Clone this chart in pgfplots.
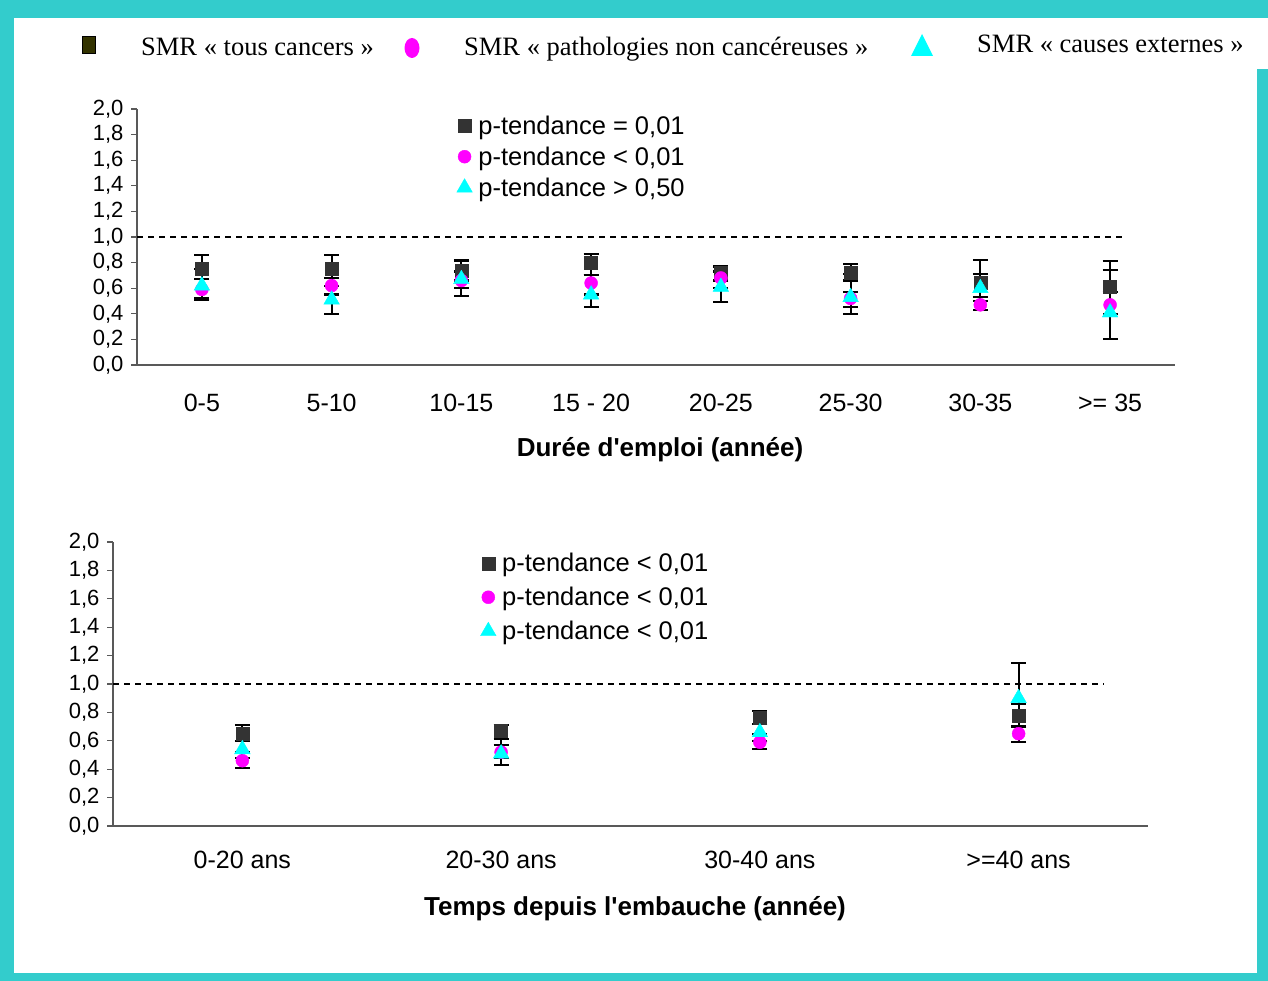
\documentclass[border=0pt]{standalone}
\usepackage{fontspec}
\setmainfont{Liberation Sans}[Ligatures=TeXOff]
\newfontfamily\timesfont{Liberation Serif}
\usepackage{pgfplots}
\usepackage{pgfplotstable}
\pgfplotsset{compat=1.18}

\definecolor{frameteal}{HTML}{33CCCC}
\definecolor{sqgray}{HTML}{333333}
\definecolor{keyolive}{HTML}{333300}
\definecolor{smrmag}{HTML}{FF00FF}
\definecolor{smrcyan}{HTML}{00FFFF}

% SMR by duration of employment: x, SMR, CI upper offset, CI lower offset
\pgfplotstableread{
x y ep em
0 0.75 0.11 0.08
1 0.75 0.11 0.07
2 0.74 0.08 0.08
3 0.80 0.07 0.10
4 0.72 0.05 0.06
5 0.72 0.07 0.06
6 0.64 0.18 0.11
7 0.61 0.20 0.04
}\dureeCancers
\pgfplotstableread{
x y ep em
0 0.59 0.16 0.08
1 0.62 0.06 0.07
2 0.66 0.15 0.12
3 0.64 0.06 0.09
4 0.68 0.05 0.08
5 0.52 0.05 0.07
6 0.47 0.06 0.04
7 0.47 0.10 0.07
}\dureeNonCancer
\pgfplotstableread{
x y ep em
0 0.62 0.05 0.10
1 0.51 0.11 0.11
2 0.67 0.06 0.07
3 0.55 0.15 0.10
4 0.61 0.12 0.12
5 0.53 0.18 0.13
6 0.60 0.11 0.10
7 0.41 0.33 0.21
}\dureeExternes

% SMR by time since hiring
\pgfplotstableread{
x y ep em
0 0.65 0.06 0.05
1 0.67 0.04 0.06
2 0.76 0.05 0.04
3 0.78 0.08 0.08
}\tempsCancers
\pgfplotstableread{
x y ep em
0 0.46 0.06 0.05
1 0.52 0.05 0.04
2 0.59 0.06 0.045
3 0.65 0.05 0.06
}\tempsNonCancer
\pgfplotstableread{
x y ep em
0 0.54 0.06 0.06
1 0.51 0.10 0.08
2 0.66 0.06 0.06
3 0.90 0.25 0.20
}\tempsExternes

\pgfplotsset{
  smrbase/.style={
    scale only axis, clip=false,
    axis x line*=bottom, axis y line*=left,
    axis line style={-, black!65, line width=1.3pt},
    ymin=0, ymax=2, ytick={0,0.2,0.4,0.6,0.8,1.0,1.2,1.4,1.6,1.8,2.0},
    tick align=outside, major tick length=6pt,
    xtick style={draw=none},
    ytick style={black!65, line width=1.2pt},
    y tick label style={font=\fontsize{22}{24}\selectfont, xshift=-4pt,
      /pgf/number format/.cd, use comma, fixed, fixed zerofill, precision=1,
      assume math mode=true},
    x tick label style={font=\fontsize{25}{28}\selectfont, yshift=-20pt},
    legend cell align=left,
    legend style={draw=none, fill=none, anchor=north west,
      font=\fontsize{25.5}{28}\selectfont, row sep=7pt,
      /tikz/every odd column/.append style={column sep=4pt}},
  },
  smrerr/.style={
    error bars/y dir=both, error bars/y explicit,
    error bars/error bar style={black, solid, line width=2.2pt},
    error bars/error mark options={black, solid, rotate=90, mark size=7.5pt, line width=2.2pt},
  },
  sqplot/.style={only marks, mark=square*, mark size=6.5pt, color=sqgray, smrerr},
  ciplot/.style={only marks, mark=*, mark size=6.5pt, color=smrmag, smrerr},
  trplot/.style={only marks, mark=triangle*, mark size=9pt, color=smrcyan, smrerr},
  refline/.style={black, dashed, dash pattern=on 6pt off 5pt, line width=1.5pt, forget plot},
}

\begin{document}
\begin{tikzpicture}[x=1pt, y=1pt]
  % frame
  \fill[frameteal] (0pt,0pt) rectangle (1268pt,981pt);
  \fill[white] (14pt,8pt) rectangle (1257pt,963pt);
  \fill[white] (14pt,912pt) rectangle (1268pt,963pt);
  \useasboundingbox (0pt,0pt) rectangle (1268pt,981pt);

  % series key at the top
  \filldraw[fill=keyolive, draw=black, line width=1pt] (82pt,927pt) rectangle (95pt,944pt);
  \node[anchor=base west, inner sep=0pt, font=\timesfont\fontsize{26.5}{30}\selectfont] at (141pt,925pt) {SMR « tous cancers »};
  \fill[smrmag] (412pt,933pt) ellipse (7.5pt and 10pt);
  \node[anchor=base west, inner sep=0pt, font=\timesfont\fontsize{26.5}{30}\selectfont] at (464pt,925pt) {SMR « pathologies non cancéreuses »};
  \fill[smrcyan] (911pt,925pt) -- (933pt,925pt) -- (922pt,947pt) -- cycle;
  \node[anchor=base west, inner sep=0pt, font=\timesfont\fontsize{26.5}{30}\selectfont] at (977pt,928pt) {SMR « causes externes »};

  % duration of employment
  \begin{axis}[smrbase, at={(137pt,616pt)}, anchor=south west,
      width=1038pt, height=256pt, xmin=-0.5, xmax=7.5,
      xtick={0,...,7},
      xticklabels={0-5, 5-10, 10-15, 15 - 20, 20-25, 25-30, 30-35, >= 35},
      legend style={at={(0.305,0.99)}}]
    \addplot[refline] coordinates {(-0.5,1) (7.09,1)};
    \addplot[sqplot] table[x=x, y=y, y error plus=ep, y error minus=em] {\dureeCancers};
    \addlegendentry{p-tendance = 0,01}
    \addplot[ciplot] table[x=x, y=y, y error plus=ep, y error minus=em] {\dureeNonCancer};
    \addlegendentry{p-tendance < 0,01}
    \addplot[trplot] table[x=x, y=y, y error plus=ep, y error minus=em] {\dureeExternes};
    \addlegendentry{p-tendance > 0,50}
  \end{axis}
  \node[font=\bfseries\fontsize{26}{30}\selectfont] at (660pt,531pt) {Durée d'emploi (année)};

  % time since hiring
  \begin{axis}[smrbase, at={(113pt,155pt)}, anchor=south west,
      width=1035pt, height=284pt, xmin=-0.5, xmax=3.5,
      xtick={0,...,3},
      xticklabels={0-20 ans, 20-30 ans, 30-40 ans, >=40 ans},
      x tick label style={yshift=4pt},
      legend style={at={(0.352,0.975)}, row sep=10pt}]
    \addplot[refline] coordinates {(-0.5,1) (3.33,1)};
    \addplot[sqplot] table[x=x, y=y, y error plus=ep, y error minus=em] {\tempsCancers};
    \addlegendentry{p-tendance < 0,01}
    \addplot[ciplot] table[x=x, y=y, y error plus=ep, y error minus=em] {\tempsNonCancer};
    \addlegendentry{p-tendance < 0,01}
    \addplot[trplot] table[x=x, y=y, y error plus=ep, y error minus=em] {\tempsExternes};
    \addlegendentry{p-tendance < 0,01}
  \end{axis}
  \node[font=\bfseries\fontsize{26}{30}\selectfont] at (635pt,72pt) {Temps depuis l'embauche (année)};
\end{tikzpicture}
\end{document}
